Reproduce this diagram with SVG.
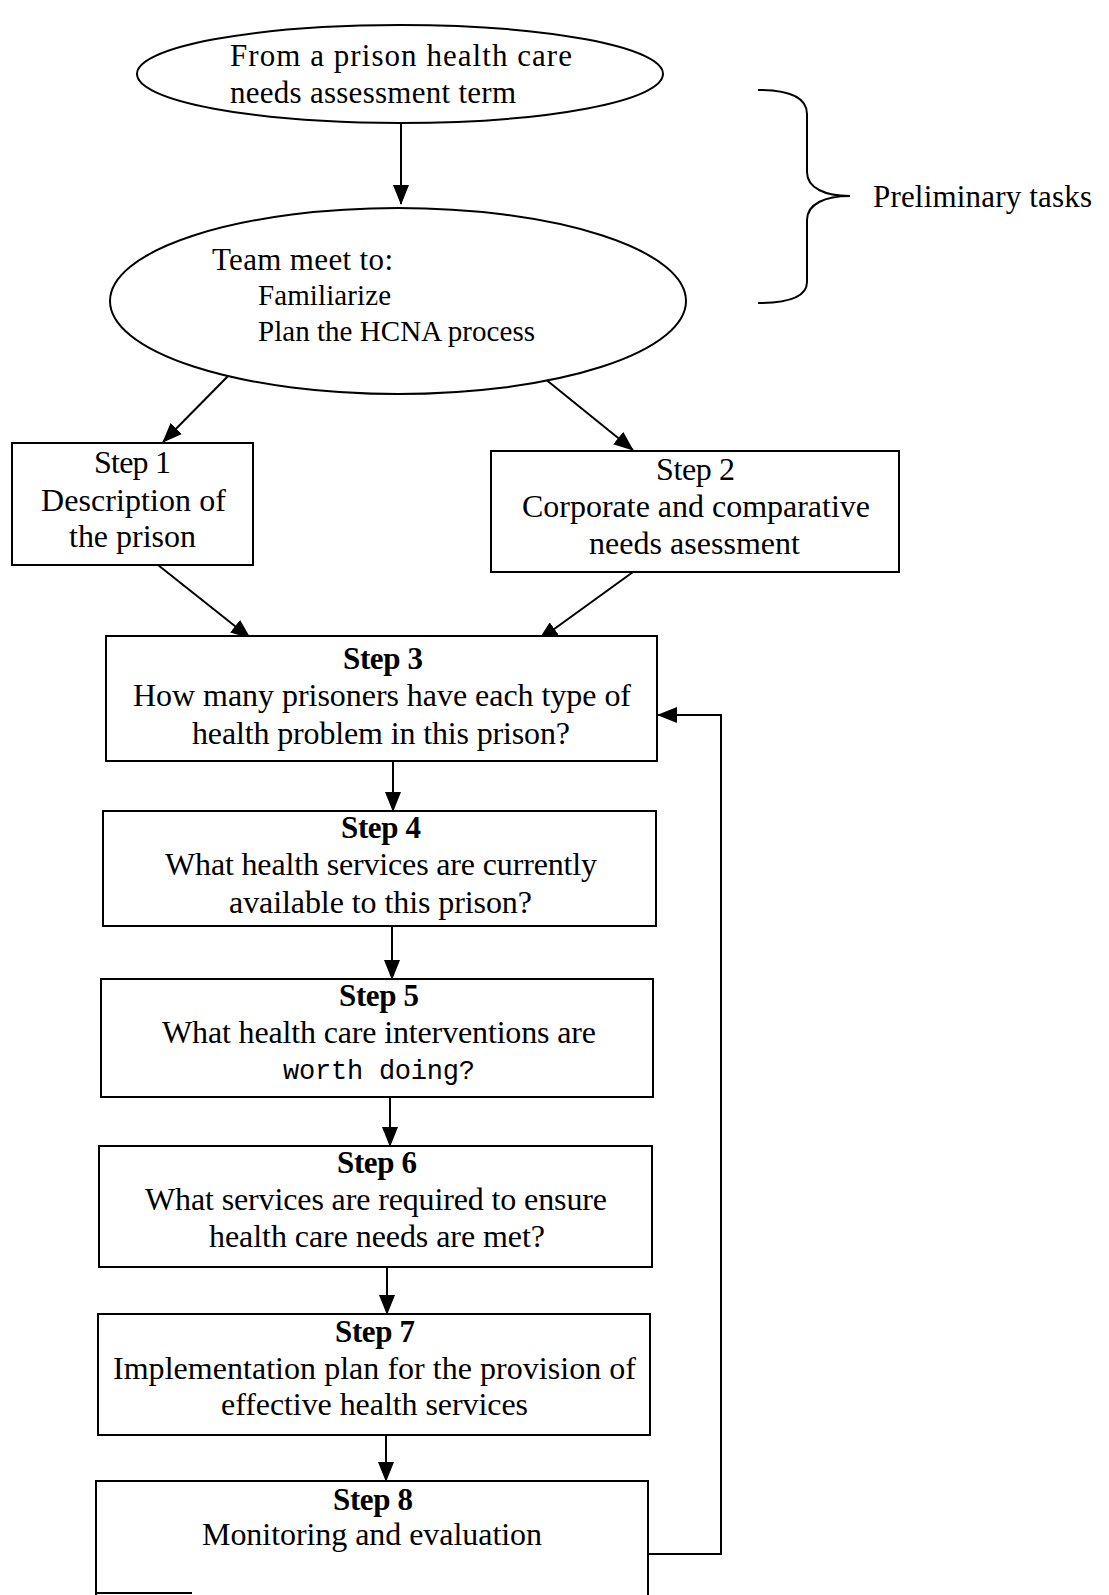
<svg xmlns="http://www.w3.org/2000/svg" width="1109" height="1595" viewBox="0 0 1109 1595">
  <style>
    .shape { fill: #ffffff; stroke: #000000; stroke-width: 2; }
    .line { fill: none; stroke: #000000; stroke-width: 2; }
    .t { font-family: "Liberation Serif", "Times New Roman", serif; font-size: 32px; fill: #000000; }
    .e { font-size: 31px; }
    .s { font-size: 29px; }
    .b { font-weight: bold; font-size: 31px; }
    .p { font-size: 31px; }
    .mono { font-family: "Liberation Mono", "Courier New", monospace; font-size: 27px; fill: #000000; }
  </style>
  <defs>
    <marker id="arrow" markerUnits="userSpaceOnUse" markerWidth="20" markerHeight="16" refX="19" refY="8" orient="auto">
      <path d="M0,0 L20,8 L0,16 Z" fill="#000000"/>
    </marker>
  </defs>
  <rect width="1109" height="1595" fill="#ffffff"/>

  <!-- connectors -->
  <g id="connectors">
    <line class="line" x1="401" y1="123" x2="401" y2="204" marker-end="url(#arrow)"/>
    <line class="line" x1="232" y1="372" x2="163" y2="442" marker-end="url(#arrow)"/>
    <line class="line" x1="539" y1="374" x2="633" y2="450" marker-end="url(#arrow)"/>
    <line class="line" x1="158" y1="565" x2="250" y2="638" marker-end="url(#arrow)"/>
    <line class="line" x1="633" y1="572" x2="539" y2="640" marker-end="url(#arrow)"/>
    <line class="line" x1="393" y1="761" x2="393" y2="811" marker-end="url(#arrow)"/>
    <line class="line" x1="392" y1="926" x2="392" y2="979" marker-end="url(#arrow)"/>
    <line class="line" x1="390" y1="1097" x2="390" y2="1146" marker-end="url(#arrow)"/>
    <line class="line" x1="387" y1="1267" x2="387" y2="1314" marker-end="url(#arrow)"/>
    <line class="line" x1="386" y1="1435" x2="386" y2="1481" marker-end="url(#arrow)"/>
    <polyline class="line" points="648,1554 721,1554 721,715 658,715" marker-end="url(#arrow)"/>
  </g>

  <!-- start ellipse -->
  <g id="node-start">
    <ellipse class="shape" cx="400" cy="74" rx="263" ry="49"/>
    <text class="t e" x="230" y="66" textLength="342">From a prison health care</text>
    <text class="t e" x="230" y="103" textLength="286">needs assessment term</text>
  </g>

  <!-- team meeting ellipse -->
  <g id="node-team">
    <ellipse class="shape" cx="398" cy="301" rx="288" ry="93"/>
    <text class="t e" x="212" y="270" textLength="181">Team meet to:</text>
    <text class="t s" x="258" y="305" textLength="133">Familiarize</text>
    <text class="t s" x="258" y="341" textLength="277">Plan the HCNA process</text>
  </g>

  <!-- preliminary tasks brace -->
  <g id="node-preliminary">
    <path class="line" d="M758,90 C790,90 807,98 807,114 L807,172 C807,188 825,196 850,196 C825,196 807,204 807,220 L807,282 C807,296 790,303 758,303"/>
    <text class="t p" x="873" y="207" textLength="219">Preliminary tasks</text>
  </g>

  <g id="node-step1">
    <rect class="shape" x="12" y="443" width="241" height="122"/>
    <text class="t" x="94" y="473" textLength="77">Step 1</text>
    <text class="t" x="41" y="511" textLength="185">Description of</text>
    <text class="t" x="69" y="547" textLength="127">the prison</text>
  </g>

  <g id="node-step2">
    <rect class="shape" x="491" y="451" width="408" height="121"/>
    <text class="t" x="656" y="480" textLength="79">Step 2</text>
    <text class="t" x="522" y="517" textLength="348">Corporate and comparative</text>
    <text class="t" x="589" y="554" textLength="211">needs asessment</text>
  </g>

  <g id="node-step3">
    <rect class="shape" x="106" y="636" width="551" height="125"/>
    <text class="t b" x="343" y="669" textLength="80">Step 3</text>
    <text class="t" x="133" y="706" textLength="498">How many prisoners have each type of</text>
    <text class="t" x="192" y="744" textLength="378">health problem in this prison?</text>
  </g>

  <g id="node-step4">
    <rect class="shape" x="103" y="811" width="553" height="115"/>
    <text class="t b" x="341" y="838" textLength="80">Step 4</text>
    <text class="t" x="165" y="875" textLength="432">What health services are currently</text>
    <text class="t" x="229" y="913" textLength="303">available to this prison?</text>
  </g>

  <g id="node-step5">
    <rect class="shape" x="101" y="979" width="552" height="118"/>
    <text class="t b" x="339" y="1006" textLength="80">Step 5</text>
    <text class="t" x="162" y="1043" textLength="434">What health care interventions are</text>
    <text class="mono" x="283" y="1079" textLength="192">worth doing?</text>
  </g>

  <g id="node-step6">
    <rect class="shape" x="99" y="1146" width="553" height="121"/>
    <text class="t b" x="337" y="1173" textLength="80">Step 6</text>
    <text class="t" x="145" y="1210" textLength="462">What services are required to ensure</text>
    <text class="t" x="209" y="1247" textLength="336">health care needs are met?</text>
  </g>

  <g id="node-step7">
    <rect class="shape" x="98" y="1314" width="552" height="121"/>
    <text class="t b" x="335" y="1342" textLength="80">Step 7</text>
    <text class="t" x="113" y="1379" textLength="523">Implementation plan for the provision of</text>
    <text class="t" x="221" y="1415" textLength="307">effective health services</text>
  </g>

  <g id="node-step8">
    <path class="line" d="M96,1600 L96,1481 L648,1481 L648,1600"/>
    <line class="line" x1="96" y1="1593" x2="192" y2="1593"/>
    <text class="t b" x="333" y="1510" textLength="80">Step 8</text>
    <text class="t" x="202" y="1545" textLength="340">Monitoring and evaluation</text>
  </g>
</svg>
